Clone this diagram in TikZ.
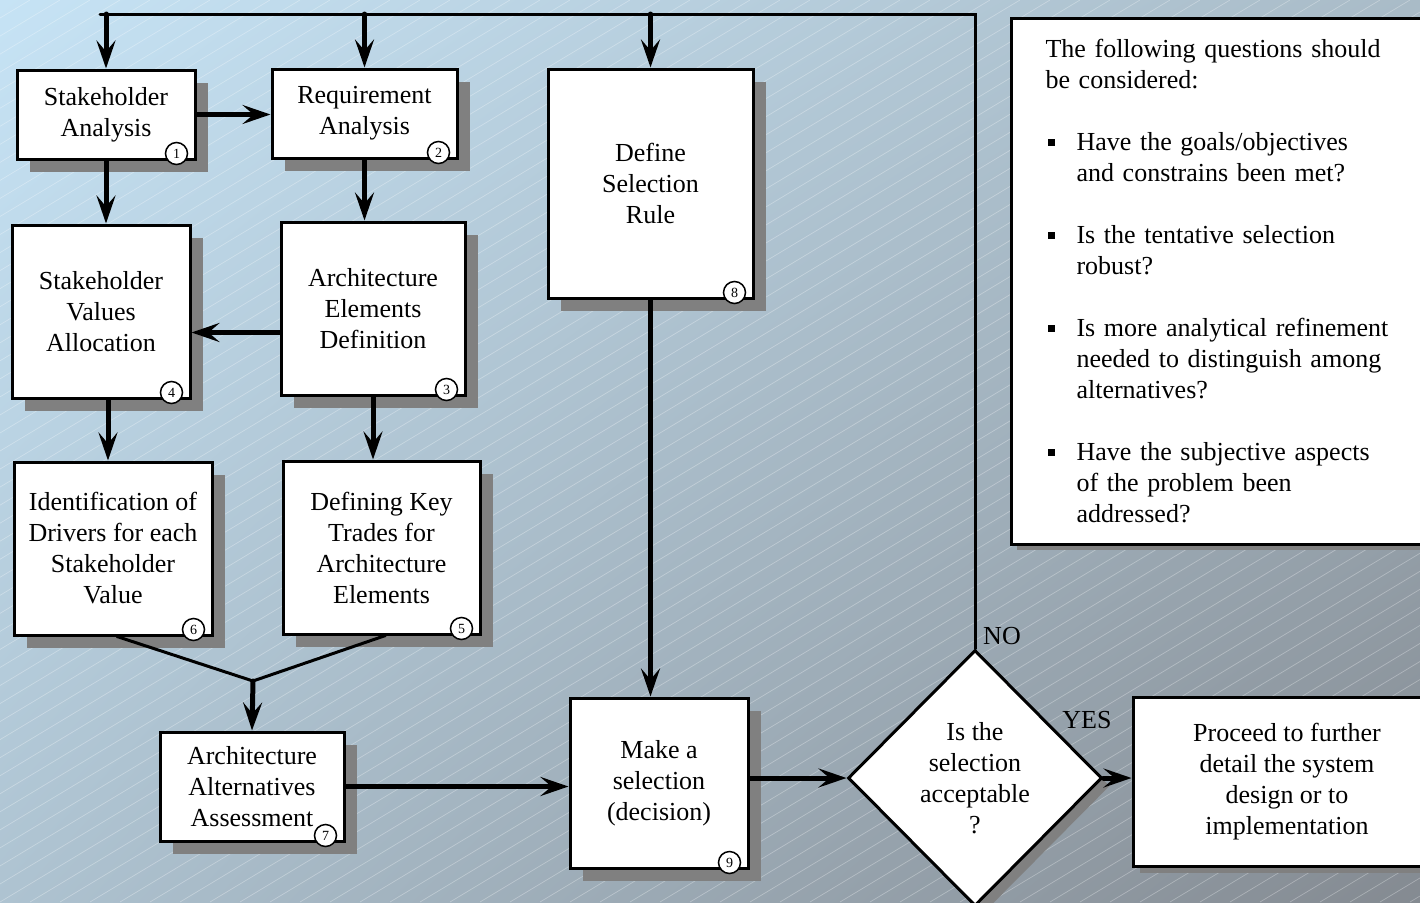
\documentclass[tikz,border=0pt]{standalone}
\usepackage{fontspec}
\setmainfont{Liberation Serif}
\usetikzlibrary{arrows.meta,shapes.geometric,shadows,shadings,calc}
\definecolor{shadowgray}{HTML}{808080}
\definecolor{bgtl}{HTML}{C6E3F5}
\definecolor{bgtr}{HTML}{A9BBC7}
\definecolor{bgbl}{HTML}{AEC3D1}
\definecolor{bgbr}{HTML}{848A91}
\newcommand{\boxfont}{\fontsize{26}{31}\selectfont}
\newcommand{\qmark}{\makebox[31pt][l]{\hspace{2pt}\rule[5pt]{7pt}{7pt}}}
\newcommand{\qindent}{\hspace*{31pt}}

\begin{document}
\begin{tikzpicture}[x=1pt,y=-1pt,
		plain/.style={draw,fill=white,line width=3pt,align=center,inner sep=0pt,font=\boxfont},
		shadowed/.style={drop shadow={shadow xshift=#1,shadow yshift=-#1,fill=shadowgray,opacity=1}},
		stage/.style={plain,shadowed=13pt},
		stepno/.style={circle,draw,fill=white,line width=1.5pt,inner sep=0pt,minimum size=22pt,font=\fontsize{14}{14}\selectfont},
		flow/.style={line width=5pt,line cap=round,-{Stealth[length=28pt,width=19pt,inset=11pt]}},
		link/.style={line width=3pt,line cap=round}]

		\useasboundingbox (0,0) rectangle (1420,902);
		\shade[upper left=bgtl,upper right=bgtr,lower left=bgbl,lower right=bgbr] (0,0) rectangle (1420,902);
		\begin{scope}
			\clip (0,0) rectangle (1420,902);
			\foreach \s in {-1500,-1470,...,1420}
				\draw[white,opacity=0.3,line width=0.7pt] (\s,902) -- ++(1500,-902);
		\end{scope}

		\node[stage,minimum width=178pt,minimum height=89pt] (sa) at (106,114.5) {Stakeholder\\Analysis};
		\node[stage,minimum width=185pt,minimum height=89pt] (ra) at (364.5,113.5) {Requirement\\Analysis};
		\node[stage,minimum width=184pt,minimum height=173pt] (aed) at (373,308.5) {Architecture\\Elements\\Definition};
		\node[stage,minimum width=178pt,minimum height=173pt] (sva) at (101,311.5) {Stakeholder\\Values\\Allocation};
		\node[stage,minimum width=197pt,minimum height=173pt] (dkt) at (381.5,547.5) {Defining Key\\Trades for\\Architecture\\Elements};
		\node[stage,minimum width=198pt,minimum height=173pt] (idd) at (113,548.5) {Identification of\\Drivers for each\\Stakeholder\\Value};
		\node[stage,minimum width=184pt,minimum height=109pt] (aaa) at (252,786.5) {Architecture\\Alternatives\\Assessment};
		\node[stage,minimum width=205pt,minimum height=229pt] (dsr) at (650.5,183.5) {Define\\Selection\\Rule};
		\node[stage,minimum width=178pt,minimum height=170pt] (mas) at (659,783) {Make a\\selection\\(decision)};
		\node[diamond,plain,shadowed=8pt,minimum width=254pt,minimum height=256pt] (dq) at (975,778) {Is the\\selection\\acceptable\\?};
		\node[plain,shadowed=7pt,minimum width=308pt,minimum height=169pt] (go) at (1287,781.5) {Proceed to further\\detail the system\\design or to\\implementation};

		\node[plain,shadowed=5pt,anchor=north west,text width=370pt,inner xsep=34pt,minimum height=526pt,align=left] (note) at (1010,17) {%
			The following questions should\\
			be considered:\\[31pt]
			\qmark Have the goals/objectives\\
			\qindent and constrains been met?\\[31pt]
			\qmark Is the tentative selection\\
			\qindent robust?\\[31pt]
			\qmark Is more analytical refinement\\
			\qindent needed to distinguish among\\
			\qindent alternatives?\\[31pt]
			\qmark Have the subjective aspects\\
			\qindent of the problem been\\
			\qindent addressed?};

		\foreach \n/\k in {sa/1,ra/2,aed/3,sva/4,dkt/5,idd/6,aaa/7,dsr/8,mas/9}
			\node[stepno] (num\k) at ($(\n.south east)+(-20,-7)$) {\k};

		\node[font=\boxfont] (no) at (1002,636) {NO};
		\node[font=\boxfont] (yes) at (1087,720) {YES};

		% feedback loop over the top
		\coordinate (bar) at (100,14);
		\draw[link] (dq.north) -- (dq.north |- bar) -- (bar);
		\draw[flow] (sa.north |- bar) -- (sa.north);
		\draw[flow] (ra.north |- bar) -- (ra.north);
		\draw[flow] (dsr.north |- bar) -- (dsr.north);

		\draw[flow] (sa.east) -- (sa.east -| ra.west);
		\draw[flow] (sa.south) -- (sa.south |- sva.north);
		\draw[flow] (ra.south) -- (ra.south |- aed.north);
		\draw[flow] ([yshift=-24pt]aed.west) -- ([yshift=-24pt]aed.west -| sva.east);
		\draw[flow] ([xshift=7pt]sva.south) -- ([xshift=7pt]sva.south |- idd.north);
		\draw[flow] (aed.south) -- (aed.south |- dkt.north);

		\coordinate (join) at (253,681);
		\draw[link] ([xshift=4pt]idd.south) -- (join) -- ([xshift=4pt]dkt.south);
		\draw[flow] (join) -- (aaa.north);

		\draw[flow] (aaa.east) -- (aaa.east -| mas.west);
		\draw[flow] (dsr.south) -- (dsr.south |- mas.north);
		\draw[flow] (mas.east |- dq.west) -- (dq.west);
		\draw[flow] (dq.east) -- (dq.east -| go.west);
	\end{tikzpicture}
\end{document}
